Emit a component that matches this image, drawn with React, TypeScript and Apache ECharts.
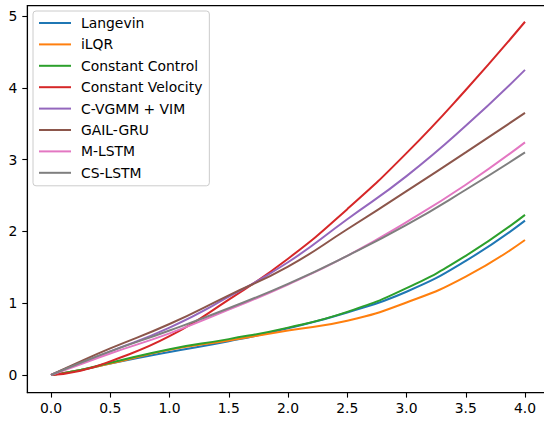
import React, { useEffect, useRef } from "react";
import * as echarts from "echarts";

const tValues = [0, 0.25, 0.5, 1.0, 1.5, 2.0, 2.5, 3.0, 3.5, 4.0];

const seriesNames = [
  "Langevin",
  "iLQR",
  "Constant Control",
  "Constant Velocity",
  "C-VGMM + VIM",
  "GAIL-GRU",
  "M-LSTM",
  "CS-LSTM",
];

const langevin = [0, 0.07, 0.16, 0.32, 0.47, 0.65, 0.87, 1.16, 1.59, 2.15];
const ilqr = [0, 0.07, 0.16, 0.35, 0.48, 0.62, 0.755, 1.01, 1.37, 1.88];
const constantControl = [0, 0.07, 0.17, 0.36, 0.5, 0.66, 0.88, 1.21, 1.66, 2.23];
const constantVelocity = [0, 0.06, 0.19, 0.54, 1.05, 1.62, 2.31, 3.09, 3.97, 4.92];
const cvgmm = [0, 0.17, 0.33, 0.66, 1.09, 1.57, 2.17, 2.77, 3.47, 4.25];
const gailGru = [0, 0.19, 0.37, 0.71, 1.11, 1.51, 2.03, 2.56, 3.1, 3.65];
const mLstm = [0, 0.15, 0.3, 0.58, 0.91, 1.26, 1.66, 2.13, 2.65, 3.24];
const csLstm = [0, 0.17, 0.33, 0.62, 0.93, 1.27, 1.66, 2.09, 2.58, 3.1];

const allValues = [langevin, ilqr, constantControl, constantVelocity, cvgmm, gailGru, mLstm, csLstm];

const colors = ["#1f77b4", "#ff7f0e", "#2ca02c", "#d62728", "#9467bd", "#8c564b", "#e377c2", "#7f7f7f"];

const xTicks = [0, 0.5, 1, 1.5, 2, 2.5, 3, 3.5, 4];
const yTicks = [0, 1, 2, 3, 4, 5];

const FONT = "DejaVu Sans";
const FS = 13.9;

export default function App() {
  const ref = useRef<HTMLDivElement>(null);
  useEffect(() => {
    if (!ref.current) return;
    const chart = echarts.init(ref.current, undefined, { renderer: "svg" });
    chart.setOption({
      animation: false,
      color: colors,
      textStyle: { fontFamily: FONT },
      grid: {
        left: 27.3,
        right: 11.3,
        top: 5.6,
        bottom: 29.4,
        show: true,
        borderColor: "#000",
        borderWidth: 1.1,
        backgroundColor: "#fff",
      },
      legend: {
        orient: "vertical",
        left: 33,
        top: 11,
        padding: [5, 7, 6, 6],
        itemWidth: 32,
        itemHeight: 14,
        itemGap: 7.4,
        icon: "path://M0,0H32V2H0Z",
        symbolKeepAspect: true,
        backgroundColor: "#fff",
        borderColor: "#cccccc",
        borderWidth: 1,
        borderRadius: 3,
        textStyle: {
          fontFamily: FONT,
          fontSize: FS,
          color: "#000",
          padding: [0, 0, 0, 5],
        },
        data: seriesNames,
      },
      xAxis: {
        type: "value",
        min: -0.2,
        max: 4.2,
        splitLine: { show: false },
        axisLine: { show: true, onZero: false, lineStyle: { color: "#000", width: 1.1 } },
        axisTick: {
          show: true,
          customValues: xTicks,
          length: 5,
          lineStyle: { color: "#000", width: 1.1 },
        },
        axisLabel: {
          customValues: xTicks,
          formatter: (v: number) => v.toFixed(1),
          fontFamily: FONT,
          fontSize: FS,
          color: "#000",
          margin: 8,
        },
      },
      yAxis: {
        type: "value",
        min: -0.245,
        max: 5.145,
        splitLine: { show: false },
        axisLine: { show: true, onZero: false, lineStyle: { color: "#000", width: 1.1 } },
        axisTick: {
          show: true,
          customValues: yTicks,
          length: 5,
          lineStyle: { color: "#000", width: 1.1 },
        },
        axisLabel: {
          customValues: yTicks,
          formatter: (v: number) => String(Math.round(v)),
          fontFamily: FONT,
          fontSize: FS,
          color: "#000",
          margin: 10,
        },
      },
      series: seriesNames.map((name, i) => ({
        name,
        type: "line",
        symbol: "none",
        smooth: true,
        lineStyle: { width: 2, color: colors[i] },
        itemStyle: { color: colors[i] },
        data: tValues.map((t, j) => [t, allValues[i][j]]),
      })),
    });
    return () => chart.dispose();
  }, []);
  return (
    <div style={{ position: "fixed", left: 0, top: 0, width: 544, height: 422, overflow: "hidden", background: "#fff" }}>
      <div ref={ref} style={{ width: 560, height: 422 }} />
    </div>
  );
}
